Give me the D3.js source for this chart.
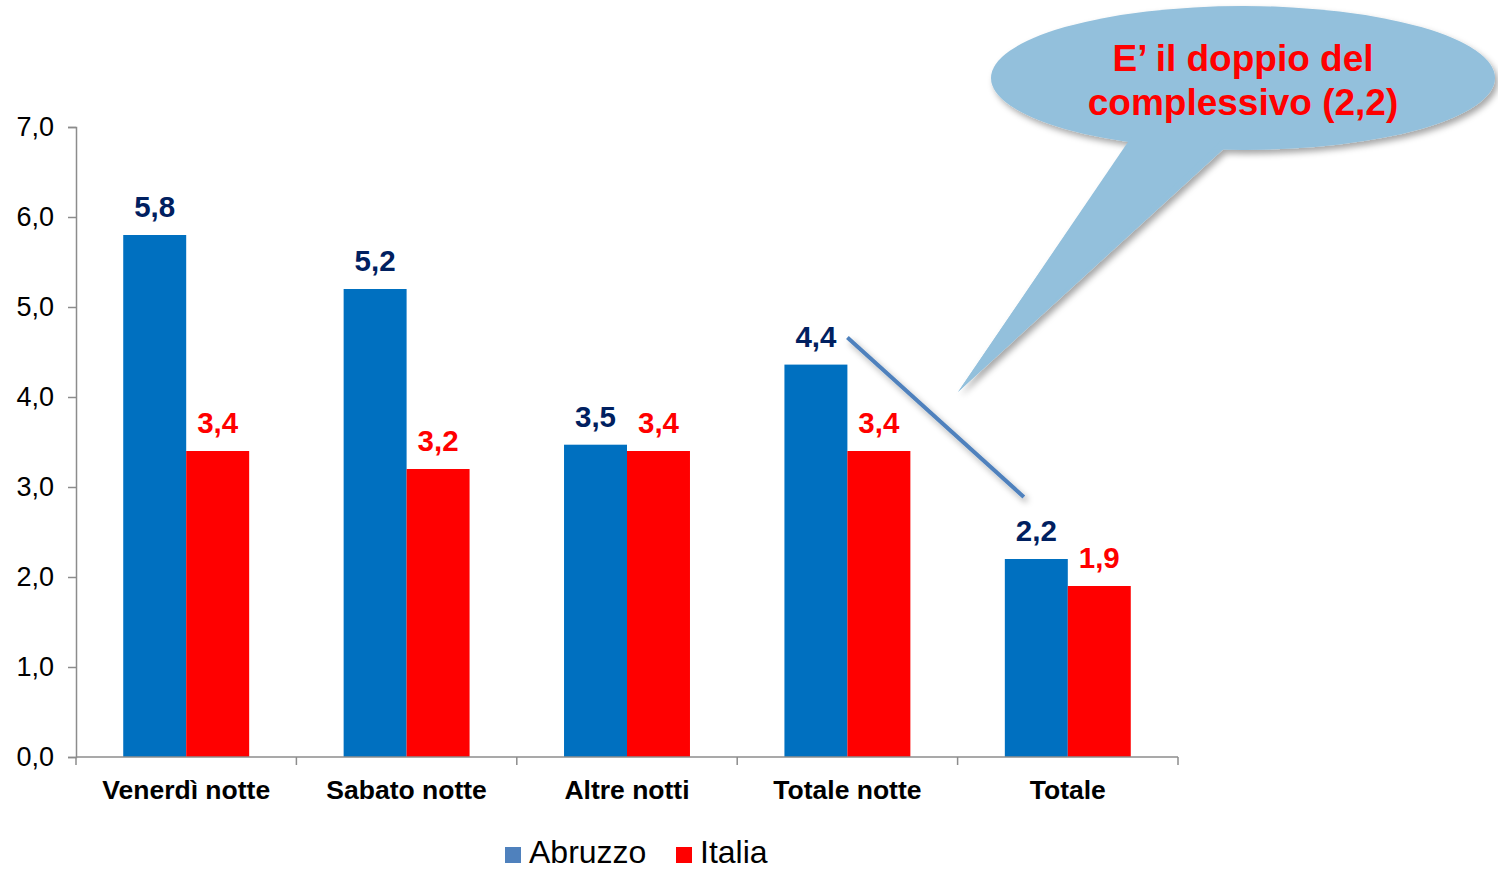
<!DOCTYPE html>
<html>
<head>
<meta charset="utf-8">
<script src="https://cdn.jsdelivr.net/npm/d3@7"></script>
<style>
  body { margin: 0; background: #fff; }
  text { font-family: Arial, "Liberation Sans", sans-serif; }
</style>
</head>
<body>
<main></main>
<script>
const width = 1498, height = 869;

// data
const categories = ["Venerdì notte", "Sabato notte", "Altre notti", "Totale notte", "Totale"];
const abruzzo = [5.8, 5.2, 3.47, 4.36, 2.2];
const italia = [3.4, 3.2, 3.4, 3.4, 1.9];
const seriesNames = ["Abruzzo", "Italia"];
const yTicks = [0, 1, 2, 3, 4, 5, 6, 7];
const calloutLines = ["E’ il doppio del", "complessivo (2,2)"];

const barColors = ["#0070c0", "#ff0000"];
const labelColors = ["#002060", "#ff0000"];
const legendColors = ["#4f81bd", "#ff0000"];

const margin = {left: 76, right: 320, top: 127, bottom: 112};

const svg = d3.select("main").append("svg")
    .attr("width", width)
    .attr("height", height);

const defs = svg.append("defs");
const shadow = defs.append("filter").attr("id", "shadow")
    .attr("x", "-20%").attr("y", "-20%").attr("width", "140%").attr("height", "140%");
shadow.append("feDropShadow")
    .attr("dx", 3).attr("dy", 4).attr("stdDeviation", 3)
    .attr("flood-color", "#000").attr("flood-opacity", 0.35);

const x = d3.scaleBand()
    .domain(categories)
    .range([margin.left, width - margin.right]);

const xSeries = d3.scaleBand()
    .domain(seriesNames)
    .range([0, x.bandwidth()])
    .paddingOuter(0.75);

const y = d3.scaleLinear()
    .domain([0, 7])
    .range([height - margin.bottom, margin.top]);

const fmt = v => d3.format(".1f")(v).replace(".", ",");

// y axis
const yAxis = svg.append("g")
    .attr("transform", "translate(" + margin.left + ",0)")
    .call(d3.axisLeft(y).tickValues(yTicks).tickSize(8).tickPadding(14).tickFormat(fmt));
yAxis.select(".domain").attr("stroke", "#8c8c8c").attr("stroke-width", 1.5);
yAxis.selectAll(".tick line").attr("stroke", "#8c8c8c").attr("stroke-width", 1.5);
yAxis.selectAll(".tick text")
    .attr("font-size", 27).attr("fill", "#000")
    .style("font-family", "Arial, 'Liberation Sans', sans-serif");

// bars
const rows = categories.map((c, i) => ({cat: c, vals: [abruzzo[i], italia[i]]}));

const groups = svg.selectAll(".grp")
    .data(rows)
    .enter().append("g")
    .attr("class", "grp")
    .attr("transform", d => "translate(" + x(d.cat) + ",0)");

groups.selectAll("rect")
    .data(d => d.vals.map((v, k) => ({v: v, k: k})))
    .enter().append("rect")
    .attr("x", d => xSeries(seriesNames[d.k]))
    .attr("width", xSeries.bandwidth())
    .attr("y", d => y(d.v))
    .attr("height", d => y(0) - y(d.v))
    .attr("fill", d => barColors[d.k]);

groups.selectAll(".lbl")
    .data(d => d.vals.map((v, k) => ({v: v, k: k})))
    .enter().append("text")
    .attr("class", "lbl")
    .attr("x", d => xSeries(seriesNames[d.k]) + xSeries.bandwidth() / 2)
    .attr("y", d => y(d.v) - 18)
    .attr("text-anchor", "middle")
    .attr("font-size", 29.5)
    .attr("font-weight", "bold")
    .attr("fill", d => labelColors[d.k])
    .text(d => fmt(d.v));

// x axis
const xAxisG = svg.append("g")
    .attr("transform", "translate(0," + y(0) + ")");
xAxisG.append("line")
    .attr("x1", margin.left).attr("x2", width - margin.right)
    .attr("stroke", "#8c8c8c").attr("stroke-width", 1.5);
const xTickPos = categories.map(c => x(c)).concat([x.range()[1]]);
xAxisG.selectAll(".xt")
    .data(xTickPos)
    .enter().append("line")
    .attr("x1", d => d).attr("x2", d => d)
    .attr("y1", 0).attr("y2", 8)
    .attr("stroke", "#8c8c8c").attr("stroke-width", 1.5);
xAxisG.selectAll(".xl")
    .data(categories)
    .enter().append("text")
    .attr("x", d => x(d) + x.bandwidth() / 2)
    .attr("y", 42)
    .attr("text-anchor", "middle")
    .attr("font-size", 26.5)
    .attr("font-weight", "bold")
    .attr("fill", "#000")
    .text(d => d);

// legend
const legend = svg.append("g").attr("transform", "translate(505,853)");
const legendX = [0, 171];
seriesNames.forEach((name, i) => {
  legend.append("rect")
      .attr("x", legendX[i]).attr("y", -6)
      .attr("width", 16).attr("height", 16)
      .attr("fill", legendColors[i]);
  legend.append("text")
      .attr("x", legendX[i] + 24).attr("y", 10)
      .attr("font-size", 32)
      .attr("fill", "#000")
      .text(name);
});

// connector from Totale notte to Totale
const iTN = categories.indexOf("Totale notte");
const iT = categories.indexOf("Totale");
svg.append("line")
    .attr("x1", x(categories[iTN]) + xSeries("Italia"))
    .attr("y1", y(abruzzo[iTN]) - 27)
    .attr("x2", x(categories[iT]) + xSeries("Abruzzo") + 19)
    .attr("y2", y(abruzzo[iT]) - 62)
    .attr("stroke", "#4f81bd")
    .attr("stroke-width", 4)
    .attr("filter", "url(#shadow)");

// callout bubble
const cx = 1243, cy = 78, rx = 252, ry = 72;
const bubble = svg.append("g").attr("filter", "url(#shadow)");
bubble.append("path")
    .attr("d", "M1130,140 L958,392 L1228,145 Z")
    .attr("fill", "#93c0dc");
bubble.append("ellipse")
    .attr("cx", cx).attr("cy", cy).attr("rx", rx).attr("ry", ry)
    .attr("fill", "#93c0dc");
svg.append("path")
    .attr("d", "M1132,136 L958,392 L1226,136 Z")
    .attr("fill", "#93c0dc");

svg.selectAll(".cl")
    .data(calloutLines)
    .enter().append("text")
    .attr("x", cx)
    .attr("y", (d, i) => 71 + i * 44)
    .attr("text-anchor", "middle")
    .attr("font-size", 37)
    .attr("font-weight", "bold")
    .attr("fill", "#ff0000")
    .text(d => d);
</script>
</body>
</html>
